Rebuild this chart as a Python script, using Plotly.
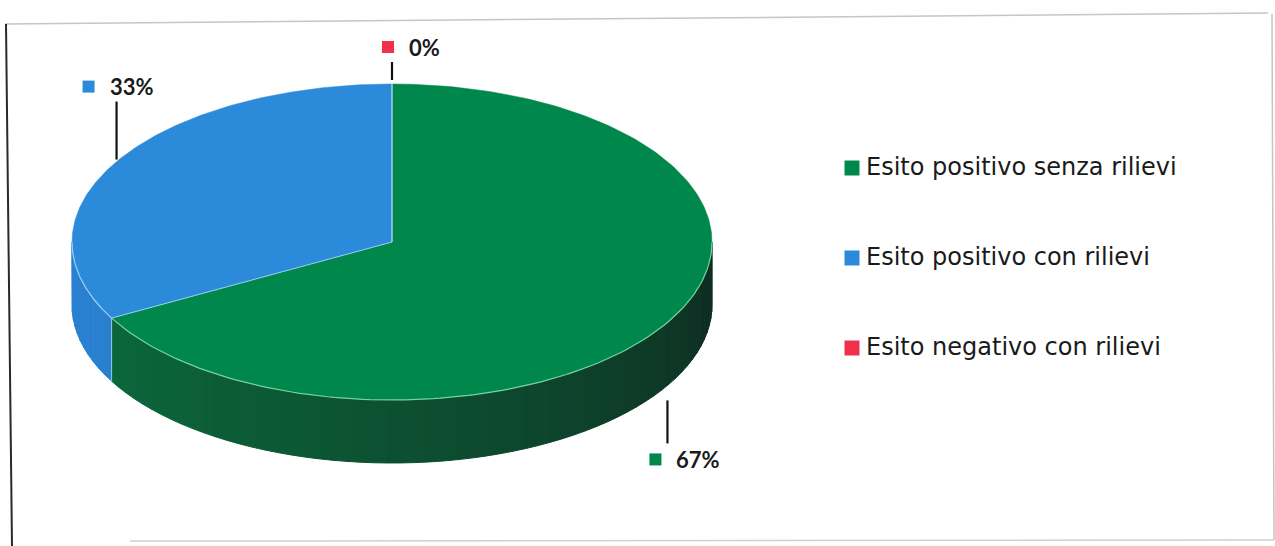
import numpy as np
import plotly.graph_objects as go

# ---------------- data ----------------
categories = ["Esito positivo senza rilievi", "Esito positivo con rilievi", "Esito negativo con rilievi"]
values = [67, 33, 0]
label_texts = ["67%", "33%", "0%"]

# ---------------- style / layout ----------------
W, H = 1275, 546
top_colors = ["#00874b", "#2b8ad9", "#f2304c"]
side_colors = ["#0b683b", "#2a80d0", "#c8283f"]
edge_colors = ["#74d3a0", "#9ccff4", "#ff8c9c"]
CX, CY, RX, RY, DEPTH = 392, 242, 320, 158, 63
label_dx = [-12, -28, -4]         # horizontal offset of label square from leader
leader_gap = [15, 2, 4]           # gap between pie edge and leader start
leader_len = [43, 58, 18]
FONT = "Lato"
LEG_FONT = "DejaVu Sans"
TXT = "#1a1a1a"


def ell(theta_deg, dy=0.0):
    t = np.radians(theta_deg)
    return CX + RX * np.cos(t), CY - RY * np.sin(t) + dy


def hex2rgb(h):
    h = h.lstrip("#")
    return np.array([int(h[i:i + 2], 16) for i in (0, 2, 4)], dtype=float)


def mix(c1, c2, f):
    a, b = hex2rgb(c1), hex2rgb(c2)
    r = a * (1 - f) + b * f
    return "rgb(%d,%d,%d)" % tuple(np.round(r))


fig = go.Figure()

# slice angles: start at 12 o'clock, clockwise
total = float(sum(values))
start = 90.0
slices = []
for v in values:
    sweep = 360.0 * v / total
    a_hi = start
    a_lo = start - sweep
    slices.append((a_lo, a_hi))
    start = a_lo


def visible_side(a_lo, a_hi):
    out = []
    for k in (-1, 0, 1):
        lo, hi = 180 + 360 * k, 360 + 360 * k
        s, e = max(a_lo, lo), min(a_hi, hi)
        if e > s:
            out.append((s, e))
    return out


# ---- sides (drawn first) ----
for i, (a_lo, a_hi) in enumerate(slices):
    if values[i] <= 0:
        continue
    for (s, e) in visible_side(a_lo, a_hi):
        n = max(2, int((e - s) / 2.5))
        edges = np.linspace(s, e, n + 1)
        for j in range(n):
            t0, t1 = edges[j], edges[j + 1]
            tm = ((t0 + t1) / 2) % 360
            d = np.clip((tm - 205) / 150.0, 0, 1) ** 1.1
            col = mix(side_colors[i], "#0f2620", d * 0.9)
            th = np.linspace(t0, t1, 6)
            xt, yt = ell(th)
            xb, yb = ell(th[::-1], DEPTH)
            fig.add_trace(go.Scatter(
                x=np.concatenate([xt, xb, xt[:1]]), y=np.concatenate([yt, yb, yt[:1]]),
                mode="lines", fill="toself", fillcolor=col,
                line=dict(color=col, width=1), hoverinfo="skip", showlegend=False))

# ---- top faces ----
for i, (a_lo, a_hi) in enumerate(slices):
    if values[i] <= 0:
        continue
    th = np.linspace(a_lo, a_hi, 200)
    xs, ys = ell(th)
    fig.add_trace(go.Scatter(
        x=np.concatenate([[CX], xs, [CX]]), y=np.concatenate([[CY], ys, [CY]]),
        mode="lines", fill="toself", fillcolor=top_colors[i],
        line=dict(color=top_colors[i], width=0.5), hoverinfo="skip", showlegend=False))

# ---- highlight edges ----
for i, (a_lo, a_hi) in enumerate(slices):
    if values[i] <= 0:
        continue
    for (s, e) in visible_side(a_lo, a_hi):
        th = np.linspace(s, e, 120)
        xs, ys = ell(th)
        fig.add_trace(go.Scatter(x=xs, y=ys, mode="lines",
                                 line=dict(color=edge_colors[i], width=1.2),
                                 hoverinfo="skip", showlegend=False))
# radial dividers + side seams
for i, (a_lo, a_hi) in enumerate(slices):
    x0, y0 = ell(a_lo)
    fig.add_trace(go.Scatter(x=[CX, x0], y=[CY, y0], mode="lines",
                             line=dict(color="rgba(180,225,240,0.8)", width=1),
                             hoverinfo="skip", showlegend=False))
    if 180 < (a_lo % 360) < 360:
        fig.add_trace(go.Scatter(x=[x0, x0], y=[y0, y0 + DEPTH], mode="lines",
                                 line=dict(color="rgba(170,220,240,0.8)", width=1),
                                 hoverinfo="skip", showlegend=False))

# ---- data labels with leader lines ----
for i, (a_lo, a_hi) in enumerate(slices):
    mid = (a_lo + a_hi) / 2
    mx, my = ell(mid)
    if np.sin(np.radians(mid)) >= 0:
        y1 = my - leader_gap[i]
        y2 = y1 - leader_len[i]
        ly = y2 - 15
    else:
        y1 = my + DEPTH + leader_gap[i]
        y2 = y1 + leader_len[i]
        ly = y2 + 16
    fig.add_trace(go.Scatter(x=[mx, mx], y=[y1, y2], mode="lines",
                             line=dict(color="#111111", width=2.2),
                             hoverinfo="skip", showlegend=False))
    sx = mx + label_dx[i]
    fig.add_trace(go.Scatter(x=[sx], y=[ly], mode="markers",
                             marker=dict(symbol="square", size=12, color=top_colors[i]),
                             hoverinfo="skip", showlegend=False))
    fig.add_annotation(x=sx + 19, y=ly, text=label_texts[i], showarrow=False,
                       xanchor="left", yanchor="middle",
                       font=dict(family=FONT, size=22, color=TXT, weight="bold"))

# ---- legend ----
leg_x, leg_y0, leg_dy = 852, 168, 90
for i, c in enumerate(categories):
    yy = leg_y0 + i * leg_dy
    fig.add_trace(go.Scatter(x=[leg_x], y=[yy], mode="markers",
                             marker=dict(symbol="square", size=15, color=top_colors[i]),
                             hoverinfo="skip", showlegend=False))
    fig.add_annotation(x=leg_x + 12, y=yy - 1, text=c, showarrow=False,
                       xanchor="left", yanchor="middle",
                       font=dict(family=LEG_FONT, size=24, color=TXT))

# ---- scanned frame ----
frame = [
    ((5, 24), (1268, 13), "#c9c3cd", 1.5),
    ((6, 24), (12, 546), "#2a2a2a", 2),
    ((1272, 14), (1274, 540), "#c4c4c4", 1.5),
    ((130, 541), (1274, 540), "#cfcfd4", 1.5),
]
for (p0, p1, col, w) in frame:
    fig.add_shape(type="line", x0=p0[0], y0=p0[1], x1=p1[0], y1=p1[1],
                  xref="x", yref="y", line=dict(color=col, width=w))

fig.update_layout(
    width=W, height=H, margin=dict(l=0, r=0, t=0, b=0),
    paper_bgcolor="white", plot_bgcolor="white", showlegend=False,
    xaxis=dict(range=[0, W], visible=False, fixedrange=True),
    yaxis=dict(range=[H, 0], visible=False, fixedrange=True),
)
fig.write_html("out.html")
